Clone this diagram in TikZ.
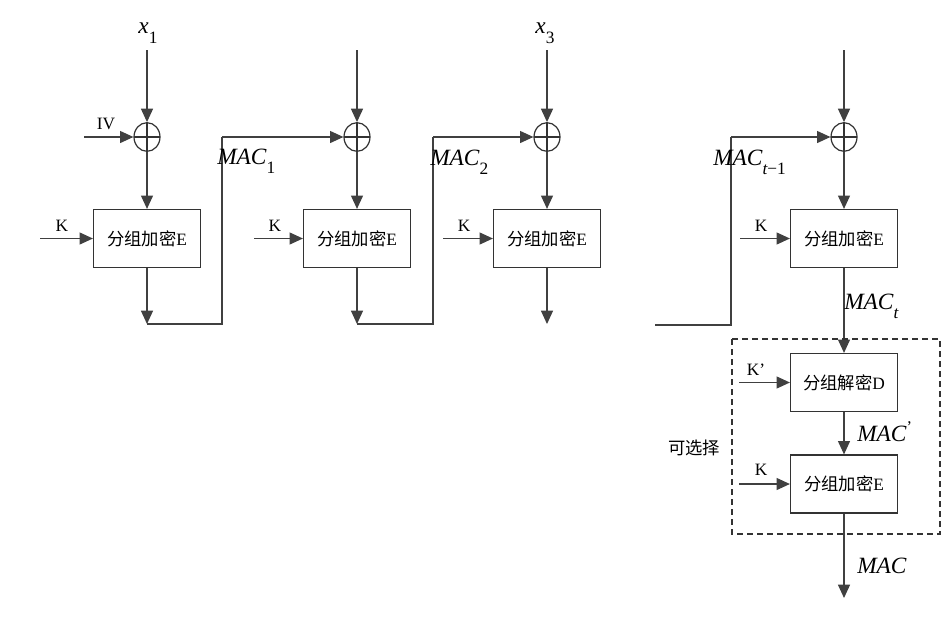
\documentclass[tikz,border=0pt]{standalone}
\usepackage{fontspec}
\setmainfont{Liberation Serif}
\newfontfamily\cjk{Noto Sans CJK SC}
\usetikzlibrary{arrows.meta}

\newcommand{\lowsub}[1]{\raisebox{-0.42em}{\fontsize{13}{15}\selectfont #1}}

\tikzset{
  blk/.style={draw=black!80, line width=0.9pt, minimum width=80.25pt, minimum height=43.5pt, inner sep=0pt, font=\fontsize{13}{15}\selectfont},
  xorsym/.style={draw=black!80, line width=0.9pt, ellipse, minimum width=19.5pt, minimum height=21.5pt, inner sep=0pt,
    path picture={\draw[black!80, line width=0.9pt] (path picture bounding box.north) -- (path picture bounding box.south) (path picture bounding box.west) -- (path picture bounding box.east);}},
  ln/.style={draw=black!75, line width=0.9pt},
  arr/.style={ln, -{Triangle[length=10pt,width=9pt]}},
  lbl/.style={inner sep=0pt, font=\fontsize{13}{15}\selectfont},
  maclbl/.style={inner sep=0pt, font=\fontsize{17.5}{19}\selectfont\itshape},
}
\usetikzlibrary{shapes.geometric}

\begin{document}
\begin{tikzpicture}[x=0.75pt,y=0.75pt,yscale=-1,xscale=1]
\useasboundingbox (0,0) rectangle (944,632);

\node[xorsym] (xor1) at (147,137) {};
\node[xorsym] (xor2) at (357,137) {};
\node[xorsym] (xor3) at (547,137) {};
\node[xorsym] (xor4) at (844,137) {};

\node[blk] (enc1) at (147,238.5) {{\cjk 分组加密}E};
\node[blk] (enc2) at (357,238.5) {{\cjk 分组加密}E};
\node[blk] (enc3) at (547,238.5) {{\cjk 分组加密}E};
\node[blk] (enc4) at (844,238.5) {{\cjk 分组加密}E};
\node[blk] (dec) at (844,382.5) {{\cjk 分组解密}D};
\node[blk] (enc5) at (844,484) {{\cjk 分组加密}E};

\coordinate (in1) at (147,50);
\coordinate (in2) at (357,50);
\coordinate (in3) at (547,50);
\coordinate (in4) at (844,50);
\coordinate (iv) at (84,137);
\coordinate (k1) at (40,238.5);
\coordinate (k2) at (254,238.5);
\coordinate (k3) at (443,238.5);
\coordinate (k4) at (740,238.5);
\coordinate (kd) at (739,382.5);
\coordinate (k5) at (739,484);
\coordinate (out1) at (147,324);
\coordinate (out2) at (357,324);
\coordinate (out3) at (547,324);
\coordinate (bend1a) at (222,324);
\coordinate (bend1b) at (222,137);
\coordinate (bend2a) at (433,324);
\coordinate (bend2b) at (433,137);
\coordinate (from4) at (655,325);
\coordinate (bend4a) at (731,325);
\coordinate (bend4b) at (731,137);
\coordinate (macout) at (844,598);

\draw[arr] (in1) -- (xor1);
\draw[arr] (iv) -- (xor1);
\draw[arr] (xor1) -- (enc1);
\draw[arr] (k1) -- (enc1);
\draw[arr] (enc1) -- (out1);
\draw[ln] (out1) -- (bend1a) -- (bend1b);
\draw[arr] (bend1b) -- (xor2);

\draw[arr] (in2) -- (xor2);
\draw[arr] (xor2) -- (enc2);
\draw[arr] (k2) -- (enc2);
\draw[arr] (enc2) -- (out2);
\draw[ln] (out2) -- (bend2a) -- (bend2b);
\draw[arr] (bend2b) -- (xor3);

\draw[arr] (in3) -- (xor3);
\draw[arr] (xor3) -- (enc3);
\draw[arr] (k3) -- (enc3);
\draw[arr] (enc3) -- (out3);

\draw[ln] (from4) -- (bend4a) -- (bend4b);
\draw[arr] (bend4b) -- (xor4);
\draw[arr] (in4) -- (xor4);
\draw[arr] (xor4) -- (enc4);
\draw[arr] (k4) -- (enc4);
\draw[arr] (enc4) -- (dec);
\draw[arr] (kd) -- (dec);
\draw[arr] (dec) -- (enc5);
\draw[arr] (k5) -- (enc5);
\draw[arr] (enc5) -- (macout);

\draw[black!80, line width=0.8pt, dash pattern=on 4.5pt off 3pt] (732,339) rectangle (940,534);

\node[maclbl] (x1) at (148,33) {x\lowsub{\upshape 1}};
\node[maclbl] (x3) at (545,33) {x\lowsub{\upshape 3}};
\node[lbl] (ivlbl) at (106,124) {IV};
\node[lbl] (k1lbl) at (62,226) {K};
\node[lbl] (k2lbl) at (275,226) {K};
\node[lbl] (k3lbl) at (464,226) {K};
\node[lbl] (k4lbl) at (761,226) {K};
\node[lbl] (kdlbl) at (756,370) {K’};
\node[lbl] (k5lbl) at (761,470) {K};
\node[maclbl, anchor=base west] (mac1) at (217,164) {MAC\lowsub{\upshape 1}};
\node[maclbl, anchor=base west] (mac2) at (430,165) {MAC\lowsub{\upshape 2}};
\node[maclbl, anchor=base west] (mact1) at (713,165) {MAC\lowsub{t{\upshape −1}}};
\node[maclbl, anchor=base west] (mact) at (844,309) {MAC\lowsub{t}};
\node[maclbl, anchor=base west] (macp) at (857,441) {MAC\textsuperscript{\upshape '}};
\node[maclbl, anchor=base west] (macf) at (857,573) {MAC};
\node[lbl] (opt) at (694,448) {\cjk 可选择};
\end{tikzpicture}
\end{document}
